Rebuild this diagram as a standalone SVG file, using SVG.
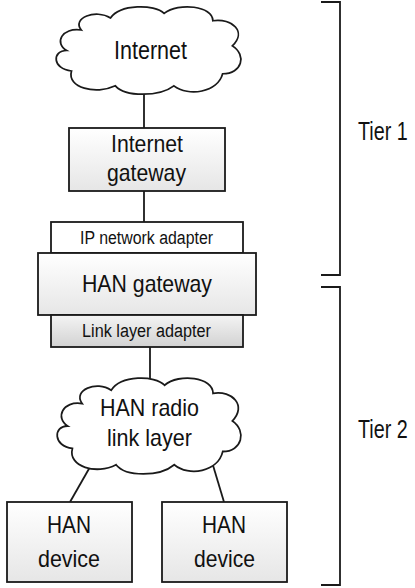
<svg xmlns="http://www.w3.org/2000/svg" width="415" height="588" viewBox="0 0 415 588">
<style>
.ln{stroke:#1a1a1a;stroke-width:1.8;fill:none}
.bx{stroke:#1a1a1a;stroke-width:1.8}
.cl{fill:#fff;stroke:#1a1a1a;stroke-width:1.8}
text{font-family:"Liberation Sans",Arial,sans-serif;fill:#111;text-anchor:middle}
.b{font-size:24px}
.s{font-size:18px}
.t{text-anchor:start;font-size:25px}
</style>
<defs>
<linearGradient id="g1" x1="0" y1="0" x2="0" y2="1"><stop offset="0" stop-color="#ffffff"/><stop offset="1" stop-color="#e6e6e6"/></linearGradient>
<linearGradient id="g2" x1="0" y1="0" x2="0" y2="1"><stop offset="0" stop-color="#f4f4f4"/><stop offset="1" stop-color="#d2d2d2"/></linearGradient>
<path id="cloud" d="M30,28 C20,15 45,5 60,15 C70,0 105,0 115,10 C130,-2 165,2 165,18 C185,15 200,30 185,45 C200,55 195,75 175,75 C170,95 140,100 125,88 C110,100 75,100 65,88 C45,98 15,90 20,72 C0,70 0,50 15,50 C2,42 10,25 30,28 Z"/>
</defs>
<g id="connectors">
<line class="ln" x1="144" y1="90" x2="144" y2="128"/>
<line class="ln" x1="144" y1="191" x2="144" y2="222"/>
<line class="ln" x1="150" y1="347" x2="150" y2="380"/>
<line class="ln" x1="90" y1="467" x2="70" y2="502"/>
<line class="ln" x1="212" y1="462" x2="224" y2="502"/>
</g>
<g id="internet">
<use href="#cloud" class="cl" transform="translate(52,4) scale(0.975,0.93)"/>
<text class="b" x="150.5" y="59" textLength="73" lengthAdjust="spacingAndGlyphs" style="font-size:25px">Internet</text>
</g>
<g id="internet-gateway">
<rect class="bx" x="69" y="128" width="156" height="63" fill="url(#g1)"/>
<text class="b" x="147" y="152" textLength="72" lengthAdjust="spacingAndGlyphs">Internet</text>
<text class="b" x="146.5" y="181" textLength="79" lengthAdjust="spacingAndGlyphs">gateway</text>
</g>
<g id="ip-adapter">
<rect class="bx" x="51" y="222" width="192" height="31" fill="#fff"/>
<text class="s" x="146.5" y="244" textLength="133" lengthAdjust="spacingAndGlyphs">IP network adapter</text>
</g>
<g id="han-gateway">
<rect class="bx" x="38" y="253" width="218" height="62" fill="url(#g1)"/>
<text class="b" x="147" y="292" textLength="130" lengthAdjust="spacingAndGlyphs">HAN gateway</text>
</g>
<g id="link-adapter">
<rect class="bx" x="51" y="315" width="192" height="32" fill="url(#g2)"/>
<text class="s" x="146.5" y="337" textLength="129" lengthAdjust="spacingAndGlyphs">Link layer adapter</text>
</g>
<g id="han-radio">
<use href="#cloud" class="cl" transform="translate(53,375) scale(0.97,1.02)"/>
<text class="b" x="149.5" y="416" textLength="99" lengthAdjust="spacingAndGlyphs">HAN radio</text>
<text class="b" x="149.5" y="446" textLength="85" lengthAdjust="spacingAndGlyphs">link layer</text>
</g>
<g id="han-device-1">
<rect class="bx" x="7" y="502" width="125" height="80" fill="url(#g1)"/>
<text class="b" x="69" y="533" textLength="44" lengthAdjust="spacingAndGlyphs">HAN</text>
<text class="b" x="69" y="567" textLength="62" lengthAdjust="spacingAndGlyphs">device</text>
</g>
<g id="han-device-2">
<rect class="bx" x="162" y="502" width="125" height="80" fill="url(#g1)"/>
<text class="b" x="224" y="533" textLength="44" lengthAdjust="spacingAndGlyphs">HAN</text>
<text class="b" x="224.5" y="567" textLength="61" lengthAdjust="spacingAndGlyphs">device</text>
</g>
<g id="tier1">
<path class="ln" d="M321,2 H340 V275 H321"/>
<text class="t" transform="translate(358,140) scale(0.79,1)">Tier 1</text>
</g>
<g id="tier2">
<path class="ln" d="M321,287 H340 V585 H321"/>
<text class="t" transform="translate(358,438) scale(0.79,1)">Tier 2</text>
</g>
</svg>
